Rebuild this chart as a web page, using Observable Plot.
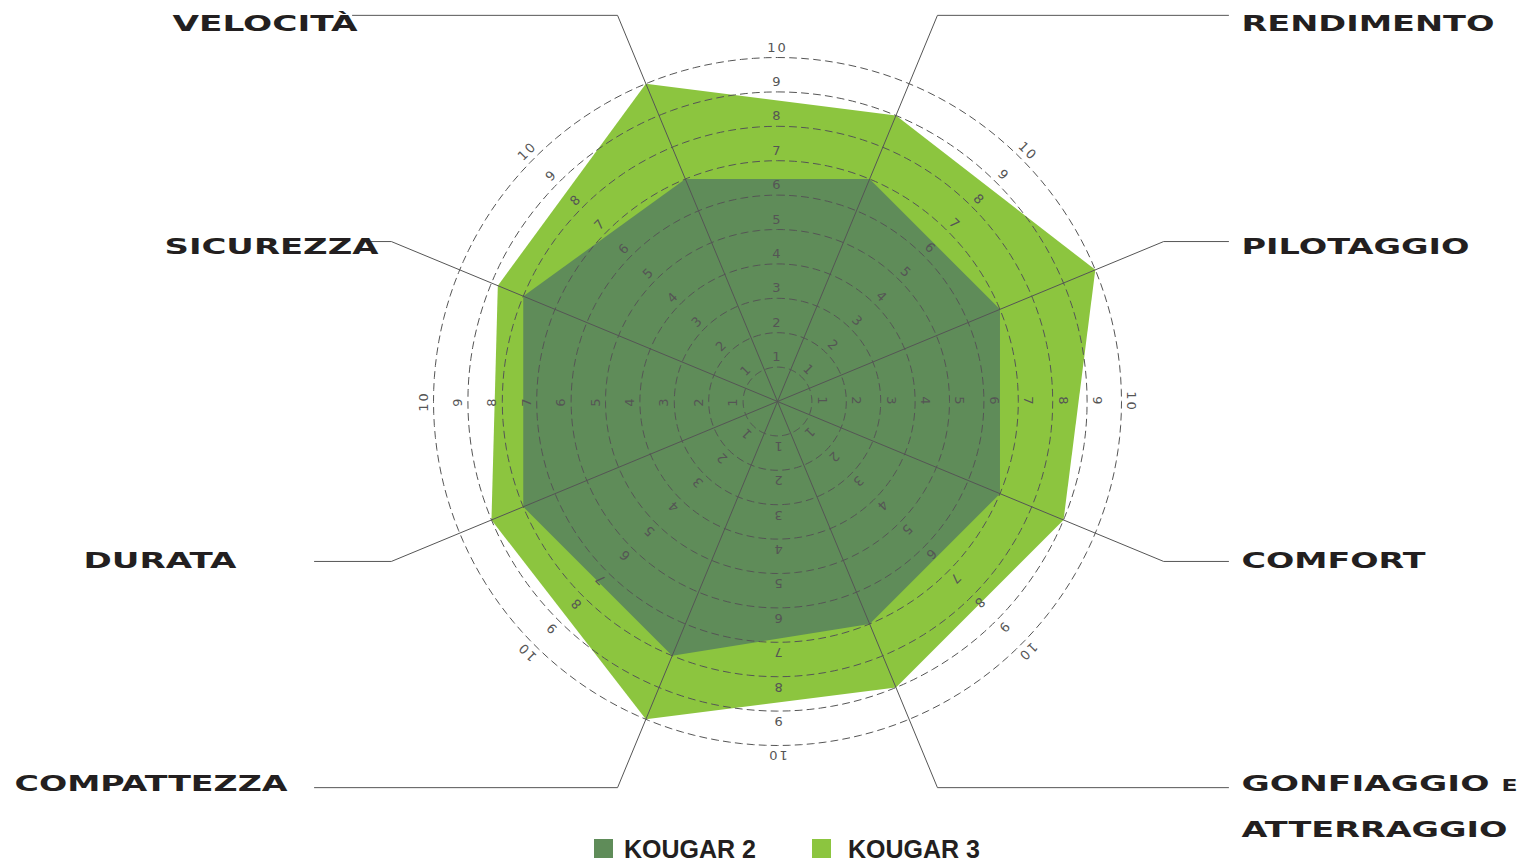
<!DOCTYPE html>
<html>
<head>
<meta charset="utf-8">
<script src="https://cdn.jsdelivr.net/npm/d3@7"></script>
<script src="https://cdn.jsdelivr.net/npm/@observablehq/plot@0.6"></script>
<style>
  html, body { margin: 0; padding: 0; background: #fff; }
  #chart svg { display: block; overflow: visible; }
  .legend { position: relative; height: 24px;
            font-family: "Liberation Sans", Arial, sans-serif; font-weight: bold; font-size: 25px; color: #231f20; }
  .legend .sw { position: absolute; top: 1px; width: 19px; height: 19px; }
  .legend .lab { position: absolute; top: -3px; line-height: 28px; white-space: nowrap; }
</style>
</head>
<body>
<div id="chart"></div>
<div class="legend" id="legend"></div>
<script>
// ---------- data ----------
const categories = ["VELOCITÀ", "RENDIMENTO", "PILOTAGGIO", "COMFORT",
                    "GONFIAGGIO E ATTERRAGGIO", "COMPATTEZZA", "DURATA", "SICUREZZA"];
const kougar2 = [7, 7, 7, 7, 7, 8, 8, 8];
const kougar3 = [10, 9, 10, 9, 9, 10, 9, 8.8];
const ringTicks = [1, 2, 3, 4, 5, 6, 7, 8, 9, 10];
const seriesNames = ["KOUGAR 2", "KOUGAR 3"];
const seriesColors = ["#5f8c59", "#8cc53f"];

// ---------- layout (pixels) ----------
const W = 1529, H = 838, CX = 777, CY = 401, K = 34.4;
const BEND = 12.15;              // leader bend radius in value units
const LABEL_OFFSET = 10 / K;     // tick label offset from ring
const labelLayout = {
  "VELOCITÀ":   {side: "left",  lineEnd: 352,  textX: 357,  rows: [{t: "VELOCITÀ", y: 23.5, w: 185}]},
  "RENDIMENTO": {side: "right", lineEnd: 1228, textX: 1241, rows: [{t: "RENDIMENTO", y: 23.5, w: 253}]},
  "PILOTAGGIO": {side: "right", lineEnd: 1228, textX: 1241, rows: [{t: "PILOTAGGIO", y: 246, w: 228}]},
  "COMFORT":    {side: "right", lineEnd: 1228, textX: 1241, rows: [{t: "COMFORT", y: 560.5, w: 184}]},
  "GONFIAGGIO E ATTERRAGGIO": {side: "right", lineEnd: 1228, textX: 1241,
                  rows: [{t: "GONFIAGGIO e", y: 783.5, w: 276}, {t: "ATTERRAGGIO", y: 829, w: 266}]},
  "COMPATTEZZA": {side: "left", lineEnd: 314, textX: 287, rows: [{t: "COMPATTEZZA", y: 783.5, w: 273}]},
  "DURATA":     {side: "left",  lineEnd: 314, textX: 236, rows: [{t: "DURATA", y: 560.5, w: 153}]},
  "SICUREZZA":  {side: "left",  lineEnd: 366, textX: 378, rows: [{t: "SICUREZZA", y: 246, w: 214}]}
};
const legendLayout = [{sw: 594, tx: 624}, {sw: 812, tx: 848}];

const px2x = px => (px - CX) / K;
const py2y = py => (CY - py) / K;
const rad = deg => deg * Math.PI / 180;
const angleOf = i => -22.5 + 45 * i;

// polygons
const poly = values => values.map((v, i) => ({
  cat: categories[i], v,
  x: v * Math.sin(rad(angleOf(i))), y: v * Math.cos(rad(angleOf(i)))
}));
const k2pts = poly(kougar2);
const k3pts = poly(kougar3);

// rings (dashed circles)
const ringPts = [];
for (const v of ringTicks) {
  for (let a = 0; a < 360; a += 2) ringPts.push({v, x: v * Math.sin(rad(a)), y: v * Math.cos(rad(a))});
}

// tick labels along 8 directions
const tickDirs = d3.range(0, 360, 45);
const tickLabels = [];
for (const d of tickDirs) for (const v of ringTicks) {
  const r = v + LABEL_OFFSET;
  tickLabels.push({text: String(v), rot: d, x: r * Math.sin(rad(d)), y: r * Math.cos(rad(d))});
}

// leader lines
const leaderPts = [];
categories.forEach((c, i) => {
  const a = rad(angleOf(i));
  const bx = BEND * Math.sin(a), by = BEND * Math.cos(a);
  leaderPts.push({c, x: 0, y: 0}, {c, x: bx, y: by}, {c, x: px2x(labelLayout[c].lineEnd), y: by});
});

// label rows
const leftRows = [], rightRows = [];
categories.forEach(c => {
  const L = labelLayout[c];
  for (const r of L.rows) (L.side === "left" ? leftRows : rightRows).push({t: r.t, w: r.w, x: px2x(L.textX), y: py2y(r.y)});
});
const widthByText = new Map([...leftRows, ...rightRows].map(r => [r.t, r.w]));

const labelStyle = {fontFamily: "DejaVu Sans", fontWeight: "bold", fontSize: 22, fill: "#231f20",
                    lineAnchor: "middle", fontVariant: "small-caps"};

const svg = Plot.plot({
  width: W, height: H, margin: 0,
  x: {domain: [px2x(0), px2x(W)], range: [0, W], axis: null},
  y: {domain: [py2y(H), py2y(0)], range: [H, 0], axis: null},
  style: {background: "white", overflow: "visible"},
  marks: [
    Plot.line(k3pts, {x: "x", y: "y", curve: "linear-closed", fill: seriesColors[1], stroke: "none"}),
    Plot.line(k2pts, {x: "x", y: "y", curve: "linear-closed", fill: seriesColors[0], stroke: "none"}),
    Plot.line(ringPts, {x: "x", y: "y", z: "v", curve: "linear-closed", stroke: "#555", strokeWidth: 1,
                        strokeDasharray: "7,5", fill: "none"}),
    Plot.line(leaderPts, {x: "x", y: "y", z: "c", stroke: "#555", strokeWidth: 1, fill: "none"}),
    Plot.text(tickLabels, {x: "x", y: "y", text: "text", rotate: "rot", fontFamily: "DejaVu Sans",
                           fontSize: 13, fill: "#555", textAnchor: "middle", lineAnchor: "middle"}),
    Plot.text(leftRows, {x: "x", y: "y", text: "t", textAnchor: "end", ...labelStyle}),
    Plot.text(rightRows, {x: "x", y: "y", text: "t", textAnchor: "start", ...labelStyle})
  ]
});
document.getElementById("chart").appendChild(svg);

// stretch category labels to the extended look of the original typeface
d3.select(svg).selectAll("text").each(function() {
  const t = this.textContent;
  if (widthByText.has(t)) {
    this.setAttribute("textLength", widthByText.get(t));
    this.setAttribute("lengthAdjust", "spacingAndGlyphs");
  } else if (/^\d+$/.test(t)) {
    this.setAttribute("letter-spacing", "2");
  }
});

// legend
const legend = d3.select("#legend");
seriesNames.forEach((name, i) => {
  legend.append("span").attr("class", "sw").style("left", legendLayout[i].sw + "px").style("background", seriesColors[i]);
  legend.append("span").attr("class", "lab").style("left", legendLayout[i].tx + "px").text(name);
});
</script>
</body>
</html>
